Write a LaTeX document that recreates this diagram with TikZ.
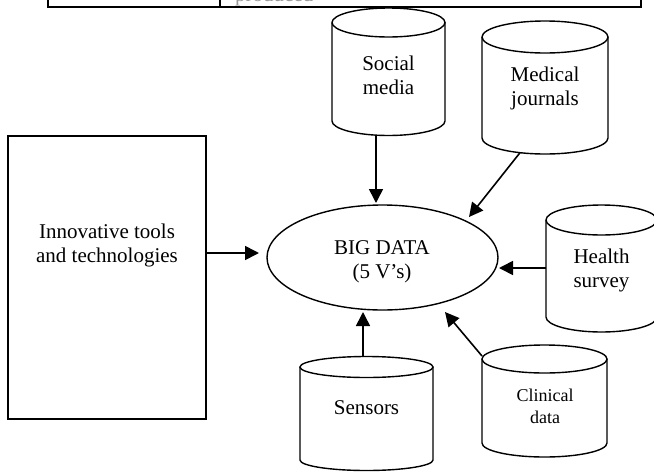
\documentclass[tikz,border=0pt]{standalone}
\usepackage{fontspec}
\setmainfont{Liberation Serif}
\usetikzlibrary{arrows.meta,shapes.geometric}

\tikzset{
  outline/.style={draw=black, line width=1.4pt},
  flow/.style={draw=black, line width=1.6pt, -{Triangle[length=14pt,width=14pt]}},
  txt/.style={align=center, inner sep=0pt, font=\fontsize{21}{24}\selectfont},
  smalltxt/.style={align=center, inner sep=0pt, font=\fontsize{18}{22}\selectfont},
}

% cylinder outline: left x, right x, centre y of top ellipse, centre y of bottom arc, y radius
\newcommand\drawcylinder[5]{%
  \pgfmathsetmacro\cylcx{(#1+#2)/2}%
  \pgfmathsetmacro\cylrx{(#2-#1)/2}%
  \draw[outline] (\cylcx,#3) ellipse [x radius=\cylrx, y radius=#5];
  \draw[outline] (#1,#3) -- (#1,#4)
     arc [start angle=180, end angle=0, x radius=\cylrx, y radius=#5] -- (#2,#3);
}

\begin{document}
\begin{tikzpicture}[x=1pt,y=-1pt]
  \clip (0,0) rectangle (654,472);

  % bottom edge of the table above
  \draw[line width=1.2pt] (48,-2) -- (48,7) -- (641,7) -- (641,-2);
  \draw[line width=1.2pt] (220,-2) -- (220,7);
  \node[anchor=base west, inner sep=0pt, text=gray!80, font=\fontsize{21}{24}\selectfont] (tablecell) at (235,1.5) {produced};

  % left box
  \node[outline, minimum width=198pt, minimum height=283pt, inner sep=0pt] (tools) at (107,277.5) {};
  \node[txt] (toolstext) at (107,245) {Innovative tools\\and technologies};

  % central ellipse
  \node[ellipse, outline, minimum width=231pt, minimum height=105pt, inner sep=0pt] (bigdata) at (382.5,257.5) {};
  \node[txt] (bigdatatext) at (382,262) {BIG DATA\\(5 V’s)};

  % data sources
  \drawcylinder{332}{445}{22.5}{121}{14.5}
  \node[txt] (social) at (388.5,75) {Social\\media};

  \drawcylinder{482}{608}{37}{138}{16}
  \node[txt] (medical) at (545,88) {Medical\\journals};

  \drawcylinder{546}{657}{220}{317}{15}
  \node[txt] (health) at (601.5,270.5) {Health\\survey};

  \drawcylinder{482}{607}{359}{443}{14}
  \node[smalltxt] (clinical) at (545,406) {Clinical\\data};

  \drawcylinder{300}{433}{367}{460}{10.5}
  \node[txt] (sensors) at (366.5,408) {Sensors};

  % connector end points
  \coordinate (socialOut) at (376,135.5);
  \coordinate (socialIn) at (376,203);
  \coordinate (medicalOut) at (520,152.7);
  \coordinate (medicalIn) at (469,217);
  \coordinate (healthOut) at (546,268);
  \coordinate (healthIn) at (499,268);
  \coordinate (clinicalOut) at (482,356);
  \coordinate (clinicalIn) at (445,312);
  \coordinate (sensorsOut) at (363,357);
  \coordinate (sensorsIn) at (363,312);
  \coordinate (toolsIn) at (259,253);

  % arrows into the ellipse
  \draw[flow] ([yshift=24.5pt]tools.east) -- (toolsIn);
  \draw[flow] (socialOut) -- (socialIn);
  \draw[flow] (medicalOut) -- (medicalIn);
  \draw[flow] (healthOut) -- (healthIn);
  \draw[flow] (clinicalOut) -- (clinicalIn);
  \draw[flow] (sensorsOut) -- (sensorsIn);
\end{tikzpicture}
\end{document}
